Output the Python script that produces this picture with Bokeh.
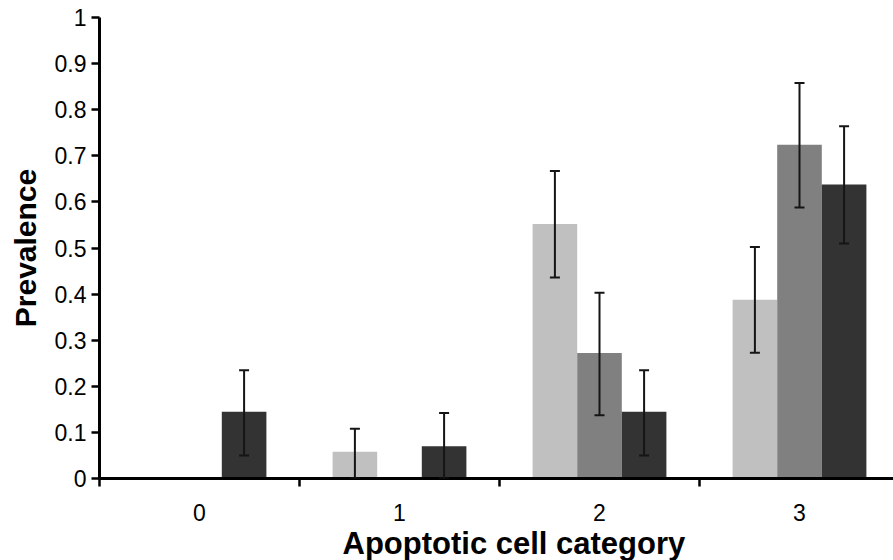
from bokeh.plotting import figure
from bokeh.models import ColumnDataSource, Range1d, FixedTicker, Whisker, TeeHead, Title
from bokeh.embed import file_html
from bokeh.resources import INLINE

# ---- data ----
categories = [0, 1, 2, 3]
category_labels = ["0", "1", "2", "3"]

light_vals = [0.0, 0.058, 0.552, 0.388]
light_lo = [None, 0.0, 0.436, 0.273]
light_hi = [None, 0.108, 0.667, 0.502]

medium_vals = [0.0, 0.0, 0.272, 0.724]
medium_lo = [None, None, 0.137, 0.588]
medium_hi = [None, None, 0.403, 0.858]

dark_vals = [0.145, 0.07, 0.145, 0.638]
dark_lo = [0.05, 0.0, 0.05, 0.51]
dark_hi = [0.235, 0.142, 0.235, 0.764]

y_ticks = [0, 0.1, 0.2, 0.3, 0.4, 0.5, 0.6, 0.7, 0.8, 0.9, 1]
y_tick_labels = ["0", "0.1", "0.2", "0.3", "0.4", "0.5", "0.6", "0.7", "0.8", "0.9", "1"]

x_title = "Apoptotic cell category"
y_title = "Prevalence"

# ---- style ----
BAR_W = 0.223
series = [
    (light_vals, light_lo, light_hi, "#c0c0c0", -BAR_W),
    (medium_vals, medium_lo, medium_hi, "#808080", 0.0),
    (dark_vals, dark_lo, dark_hi, "#333333", BAR_W),
]
FONT = "Liberation Sans"
ERR = "#151515"

p = figure(width=893, height=560, output_backend="svg", toolbar_location=None,
           x_range=Range1d(-0.5, 3.47), y_range=Range1d(0, 1),
           min_border_left=99, min_border_right=0, min_border_top=17, min_border_bottom=82)
p.outline_line_color = None
p.xgrid.visible = False
p.ygrid.visible = False
p.background_fill_color = "white"
p.border_fill_color = "white"

for vals, lo, hi, color, off in series:
    xs = [c + off for c in categories]
    src = ColumnDataSource(dict(x=xs, top=vals))
    p.vbar(x="x", top="top", width=BAR_W, bottom=0, source=src,
           fill_color=color, line_color=None)

for vals, lo, hi, color, off in series:
    xs = [c + off for c in categories]
    ex = [x for x, l in zip(xs, lo) if l is not None]
    el = [l for l in lo if l is not None]
    eh = [h for l, h in zip(lo, hi) if l is not None]
    esrc = ColumnDataSource(dict(base=ex, lower=el, upper=eh))
    w = Whisker(base="base", lower="lower", upper="upper", source=esrc,
                line_color=ERR, line_width=2, level="annotation",
                upper_head=TeeHead(size=10, line_width=2, line_color=ERR),
                lower_head=TeeHead(size=10, line_width=2, line_color=ERR))
    p.add_layout(w)

# x axis
xa = p.xaxis[0]
xa.ticker = FixedTicker(ticks=categories, minor_ticks=[c - 0.5 for c in categories])
xa.major_label_overrides = {c: l for c, l in zip(categories, category_labels)}
xa.major_tick_out = 0
xa.major_tick_in = 0
xa.minor_tick_out = 8
xa.minor_tick_in = 0
xa.minor_tick_line_width = 2.5
xa.minor_tick_line_color = "black"
xa.axis_line_width = 3
xa.axis_line_color = "black"
xa.major_label_text_font = FONT
xa.major_label_text_font_size = "23px"
xa.major_label_text_color = "black"
xa.major_label_standoff = 17

# x title placed below the axis, nudged right like the reference
p.add_layout(Title(text=x_title, align="left", offset=243, standoff=0,
                   vertical_align="bottom",
                   text_font=FONT, text_font_size="31px", text_font_style="bold",
                   text_color="black"), "below")

# y axis
ya = p.yaxis[0]
ya.ticker = FixedTicker(ticks=y_ticks, minor_ticks=[])
ya.major_label_overrides = {t: l for t, l in zip(y_ticks, y_tick_labels)}
ya.major_tick_out = 8
ya.major_tick_in = 0
ya.major_tick_line_width = 2.5
ya.major_tick_line_color = "black"
ya.minor_tick_out = 0
ya.minor_tick_in = 0
ya.axis_line_width = 3
ya.axis_line_color = "black"
ya.major_label_text_font = FONT
ya.major_label_text_font_size = "23px"
ya.major_label_text_color = "black"
ya.major_label_standoff = 5
ya.axis_label = y_title
ya.axis_label_text_font = FONT
ya.axis_label_text_font_size = "30px"
ya.axis_label_text_font_style = "bold"
ya.axis_label_text_color = "black"
ya.axis_label_standoff = 10

open("out.html", "w").write(file_html(p, INLINE))
